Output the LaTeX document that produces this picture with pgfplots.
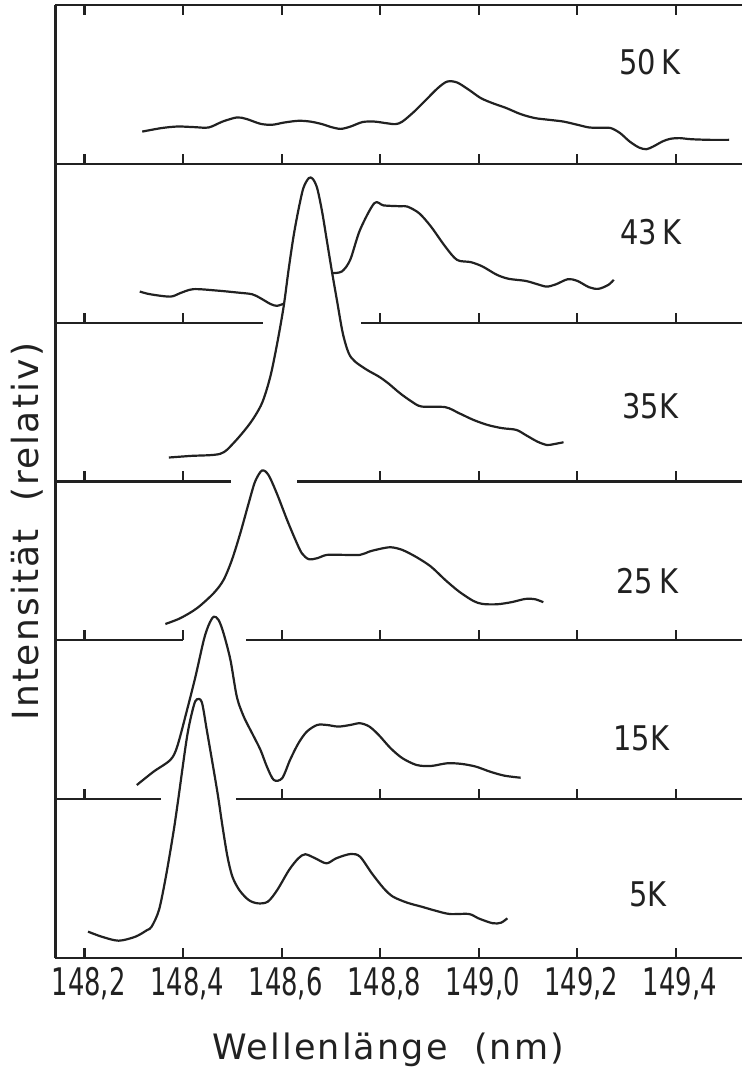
\documentclass[border=0pt]{standalone}
\usepackage{pgfplots}
\pgfplotsset{compat=1.18}
\usepackage{fontspec}
\setmainfont{DejaVu Sans}
\newfontfamily\tickfont{DejaVu Sans}[FakeStretch=0.68]
\newfontfamily\panelfont{DejaVu Sans}[FakeStretch=0.85]
\newfontfamily\labelfont{DejaVu Sans}[LetterSpace=6]
\definecolor{ink}{gray}{0.13}
\tikzset{
  curve/.style={line width=1.1pt, color=ink, smooth, tension=0.5, line join=round, mark=none},
  frame/.style={line width=1.1pt, color=ink},
  panel/.style={font=\panelfont\fontsize{17}{20}\selectfont, text=ink, anchor=center},
}
\begin{document}
\begin{tikzpicture}
\begin{axis}[
  scale only axis, width=349.6pt, height=476.5pt,
  xmin=148.141, xmax=149.56, ymin=0, ymax=6,
  axis x line*=bottom, axis y line*=left,
  axis line style={line width=1.1pt, color=ink},
  xtick={148.2,148.4,148.6,148.8,149.0,149.2,149.4},
  xticklabels={{148,2},{148,4},{148,6},{148,8},{149,0},{149,2},{149,4}},
  ytick=\empty,
  tick align=inside, major tick length=5pt,
  tick style={line width=1.1pt, color=ink},
  xticklabel style={font=\tickfont\fontsize{19}{22}\selectfont, anchor=base, yshift=-18.5pt, xshift=2pt, text=ink},
  xlabel={Wellenlänge\ \ (nm)},
  xlabel style={at={(axis description cs:0.4757,-0.106)}, anchor=base, font=\labelfont\fontsize{17.5}{20}\selectfont, text=ink},
  ylabel={Intensität\ \ (relativ)},
  ylabel style={at={(axis description cs:-0.024,0.4475)}, anchor=base, font=\labelfont\fontsize{18}{20}\selectfont, text=ink},
  clip=false,
  unbounded coords=jump,
]
% separator lines
\draw[frame] (axis cs:148.141,6) -- (axis cs:149.56,6);
\draw[frame] (axis cs:148.141,5) -- (axis cs:149.56,5);
\draw[frame] (axis cs:148.141,4) -- (axis cs:148.562,4);
\draw[frame] (axis cs:148.762,4) -- (axis cs:149.56,4);
\draw[frame] (axis cs:148.141,3) -- (axis cs:148.497,3);
\draw[frame] (axis cs:148.632,3) -- (axis cs:149.56,3);
\draw[frame] (axis cs:148.141,2) -- (axis cs:148.400,2);
\draw[frame] (axis cs:148.528,2) -- (axis cs:149.56,2);
\draw[frame] (axis cs:148.141,1) -- (axis cs:148.355,1);
\draw[frame] (axis cs:148.508,1) -- (axis cs:149.56,1);
\pgfplotsinvokeforeach{148.2,148.4,148.6,148.8,149.0,149.2,149.4}{
  \draw[frame] (axis cs:#1,6) -- ++(0pt,-5pt);
  \draw[frame] (axis cs:#1,5) -- ++(0pt,5pt);
  \draw[frame] (axis cs:#1,2) -- ++(0pt,5pt);
}
\pgfplotsinvokeforeach{148.2,148.4,148.8,149.0,149.2,149.4}{
  \draw[frame] (axis cs:#1,4) -- ++(0pt,5pt);
  \draw[frame] (axis cs:#1,3) -- ++(0pt,5pt);
}
\pgfplotsinvokeforeach{148.2,148.6,148.8,149.0,149.2,149.4}{
  \draw[frame] (axis cs:#1,1) -- ++(0pt,5pt);
}
% 50 K
\addplot[curve] coordinates {(148.317,5.203) (148.356,5.225) (148.389,5.235) (148.423,5.231) (148.452,5.229) (148.480,5.266) (148.509,5.292) (148.528,5.283) (148.557,5.252) (148.581,5.246) (148.605,5.260) (148.634,5.271) (148.658,5.266) (148.682,5.250) (148.701,5.231) (148.720,5.220) (148.740,5.235) (148.764,5.263) (148.788,5.266) (148.812,5.256) (148.831,5.250) (148.845,5.266) (148.869,5.329) (148.893,5.403) (148.917,5.477) (148.936,5.518) (148.956,5.512) (148.980,5.466) (149.004,5.414) (149.028,5.382) (149.056,5.351) (149.085,5.313) (149.114,5.288) (149.143,5.277) (149.172,5.266) (149.200,5.246) (149.224,5.229) (149.248,5.227) (149.268,5.225) (149.287,5.193) (149.306,5.141) (149.325,5.103) (149.340,5.092) (149.354,5.109) (149.373,5.141) (149.388,5.157) (149.407,5.162) (149.431,5.155) (149.469,5.151) (149.508,5.151)};
% 43 K (hidden behind the 35 K peak)
\addplot[curve] coordinates {(148.312,4.196) (148.333,4.179) (148.374,4.164) (148.394,4.186) (148.421,4.211) (148.469,4.202) (148.509,4.190) (148.540,4.179) (148.557,4.154) (148.577,4.118) (148.590,4.106) (148.603,4.118) (148.650,nan) (148.702,4.312) (148.722,4.322) (148.739,4.395) (148.759,4.584) (148.788,4.752) (148.807,4.738) (148.841,4.733) (148.855,4.731) (148.879,4.689) (148.903,4.605) (148.932,4.479) (148.956,4.395) (148.984,4.381) (149.008,4.353) (149.037,4.301) (149.061,4.276) (149.095,4.263) (149.119,4.242) (149.138,4.227) (149.157,4.242) (149.181,4.274) (149.200,4.263) (149.224,4.223) (149.243,4.213) (149.263,4.238) (149.274,4.270)};
% 35 K
\addplot[curve] coordinates {(148.371,3.151) (148.415,3.161) (148.475,3.174) (148.502,3.241) (148.536,3.367) (148.560,3.493) (148.577,3.661) (148.591,3.871) (148.604,4.101) (148.614,4.332) (148.624,4.542) (148.634,4.710) (148.644,4.847) (148.655,4.910) (148.663,4.906) (148.672,4.847) (148.682,4.700) (148.692,4.511) (148.702,4.322) (148.712,4.144) (148.724,3.934) (148.736,3.808) (148.749,3.755) (148.773,3.703) (148.797,3.661) (148.816,3.619) (148.840,3.556) (148.864,3.503) (148.884,3.472) (148.932,3.468) (148.960,3.430) (148.989,3.388) (149.018,3.356) (149.047,3.336) (149.076,3.325) (149.095,3.293) (149.119,3.251) (149.138,3.230) (149.152,3.235) (149.172,3.247)};
% 25 K
\addplot[curve] coordinates {(148.364,2.103) (148.394,2.139) (148.428,2.202) (148.462,2.297) (148.482,2.380) (148.499,2.506) (148.516,2.674) (148.533,2.863) (148.546,2.999) (148.560,3.069) (148.573,3.042) (148.590,2.926) (148.611,2.758) (148.628,2.632) (148.641,2.548) (148.655,2.511) (148.672,2.517) (148.692,2.538) (148.726,2.538) (148.759,2.538) (148.778,2.559) (148.797,2.574) (148.821,2.586) (148.845,2.569) (148.874,2.523) (148.903,2.464) (148.932,2.380) (148.960,2.307) (148.989,2.248) (149.008,2.229) (149.037,2.227) (149.066,2.240) (149.095,2.261) (149.114,2.259) (149.131,2.240)};
% 15 K
\addplot[curve] coordinates {(148.306,1.089) (148.340,1.173) (148.374,1.247) (148.388,1.331) (148.408,1.562) (148.425,1.771) (148.442,2.003) (148.452,2.097) (148.462,2.149) (148.472,2.128) (148.482,2.045) (148.496,1.877) (148.509,1.645) (148.523,1.520) (148.540,1.415) (148.557,1.310) (148.570,1.205) (148.584,1.121) (148.601,1.132) (148.617,1.247) (148.634,1.352) (148.651,1.425) (148.672,1.467) (148.692,1.467) (148.715,1.457) (148.739,1.467) (148.759,1.478) (148.778,1.457) (148.797,1.404) (148.821,1.321) (148.845,1.258) (148.874,1.215) (148.903,1.209) (148.936,1.226) (148.965,1.222) (148.994,1.205) (149.023,1.173) (149.052,1.148) (149.085,1.135)};
% 5 K
\addplot[curve] coordinates {(148.207,0.166) (148.235,0.134) (148.269,0.109) (148.303,0.134) (148.327,0.176) (148.336,0.197) (148.351,0.302) (148.365,0.512) (148.380,0.785) (148.389,0.974) (148.408,1.394) (148.421,1.582) (148.428,1.629) (148.438,1.610) (148.448,1.436) (148.462,1.184) (148.471,1.016) (148.480,0.827) (148.490,0.638) (148.500,0.512) (148.514,0.428) (148.533,0.365) (148.552,0.344) (148.572,0.355) (148.591,0.428) (148.615,0.554) (148.634,0.628) (148.648,0.653) (148.668,0.628) (148.691,0.596) (148.711,0.628) (148.740,0.655) (148.759,0.638) (148.783,0.533) (148.807,0.439) (148.826,0.386) (148.855,0.348) (148.884,0.323) (148.912,0.298) (148.941,0.277) (148.980,0.277) (148.999,0.250) (149.028,0.219) (149.045,0.222) (149.058,0.250)};
% panel labels
\node[panel] at (axis cs:149.348,5.642) {50\,K};
\node[panel] at (axis cs:149.350,4.572) {43\,K};
\node[panel] at (axis cs:149.348,3.476) {35K};
\node[panel] at (axis cs:149.342,2.374) {25\,K};
\node[panel] at (axis cs:149.330,1.385) {15K};
\node[panel] at (axis cs:149.344,0.403) {5K};
\end{axis}
\pgfresetboundingbox
\path[use as bounding box] (-27.75pt,-56pt) rectangle (343.25pt,479pt);
\end{tikzpicture}
\end{document}
